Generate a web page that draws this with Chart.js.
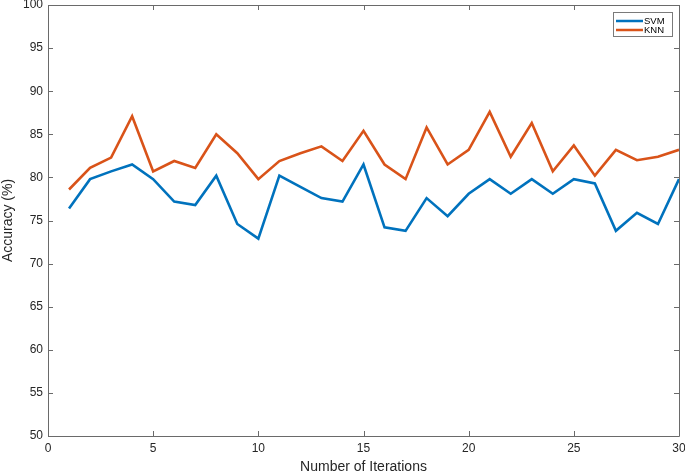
<!DOCTYPE html>
<html>
<head>
<meta charset="utf-8">
<script src="https://cdn.jsdelivr.net/npm/chart.js@4/dist/chart.umd.min.js"></script>
<style>
  html, body { margin: 0; padding: 0; background: #fff; }
  #wrap { width: 685px; height: 476px; position: relative; }
</style>
</head>
<body>
<div id="wrap"><canvas id="c" width="685" height="476"></canvas></div>
<script>
const iterations = [1,2,3,4,5,6,7,8,9,10,11,12,13,14,15,16,17,18,19,20,21,22,23,24,25,26,27,28,29,30];
const svmAccuracy = [76.4,79.8,80.7,81.5,79.8,77.2,76.8,80.2,74.6,72.9,80.2,78.9,77.6,77.2,81.5,74.2,73.8,77.6,75.5,78.1,79.8,78.1,79.8,78.1,79.8,79.3,73.8,75.9,74.6,79.8];
const knnAccuracy = [78.6,81.1,82.3,87.1,80.7,81.9,81.1,85.0,82.8,79.8,81.9,82.8,83.6,81.9,85.4,81.5,79.8,85.8,81.5,83.2,87.6,82.4,86.3,80.7,83.7,80.2,83.2,82.0,82.4,83.2];
const seriesLabels = ['SVM', 'KNN'];
const seriesColors = ['#0072BD', '#D95319'];
const xTicks = [0,5,10,15,20,25,30];
const yTicks = [50,55,60,65,70,75,80,85,90,95,100];

const FONT = 'Liberation Sans, Arial, Helvetica, sans-serif';
const AXIS_COLOR = '#6a6a6a';
const TEXT_COLOR = '#262626';

const boxPlugin = {
  id: 'matlabBox',
  afterDatasetsDraw(chart) {
    const {ctx, chartArea: a, scales} = chart;
    const x = scales.x, y = scales.y;
    ctx.save();
    ctx.strokeStyle = AXIS_COLOR;
    ctx.lineWidth = 1;
    ctx.beginPath();
    ctx.rect(Math.round(a.left) + 0.5, Math.round(a.top) + 0.5, Math.round(a.right - a.left), Math.round(a.bottom - a.top));
    ctx.stroke();
    const tl = 5;
    ctx.beginPath();
    xTicks.forEach(v => {
      const px = Math.round(x.getPixelForValue(v)) + 0.5;
      ctx.moveTo(px, a.bottom); ctx.lineTo(px, a.bottom - tl);
      ctx.moveTo(px, a.top); ctx.lineTo(px, a.top + tl);
    });
    yTicks.forEach(v => {
      const py = Math.round(y.getPixelForValue(v)) + 0.5;
      ctx.moveTo(a.left, py); ctx.lineTo(a.left + tl, py);
      ctx.moveTo(a.right, py); ctx.lineTo(a.right - tl, py);
    });
    ctx.stroke();

    // legend box (top-right, inside axes)
    const bx = 613.5, by = 12.5, bw = 59, bh = 24;
    ctx.fillStyle = '#ffffff';
    ctx.fillRect(bx, by, bw, bh);
    ctx.strokeStyle = '#7a7a7a';
    ctx.strokeRect(bx, by, bw, bh);
    chart.data.datasets.forEach((ds, i) => {
      const ly = 21 + i * 9;
      ctx.strokeStyle = ds.borderColor;
      ctx.lineWidth = 2.5;
      ctx.beginPath();
      ctx.moveTo(616, ly); ctx.lineTo(643, ly);
      ctx.stroke();
      ctx.fillStyle = '#000';
      ctx.font = '9.5px ' + FONT;
      ctx.textBaseline = 'middle';
      ctx.textAlign = 'left';
      ctx.fillText(ds.label, 644, ly + 0.5);
    });
    ctx.restore();
  }
};

new Chart(document.getElementById('c'), {
  type: 'line',
  data: {
    datasets: [
      { label: seriesLabels[0], data: iterations.map((v, i) => ({x: v, y: svmAccuracy[i]})), borderColor: seriesColors[0], backgroundColor: seriesColors[0], borderWidth: 2.6, pointRadius: 0, tension: 0, fill: false },
      { label: seriesLabels[1], data: iterations.map((v, i) => ({x: v, y: knnAccuracy[i]})), borderColor: seriesColors[1], backgroundColor: seriesColors[1], borderWidth: 2.6, pointRadius: 0, tension: 0, fill: false }
    ]
  },
  options: {
    responsive: false,
    animation: false,
    devicePixelRatio: 1,
    layout: { padding: { top: 5, right: 6, bottom: 0, left: 0 } },
    plugins: { legend: { display: false }, tooltip: { enabled: false } },
    scales: {
      x: {
        type: 'linear', min: 0, max: 30,
        afterBuildTicks: s => { s.ticks = xTicks.map(v => ({value: v})); },
        grid: { display: false, drawTicks: false },
        border: { display: false },
        ticks: { color: TEXT_COLOR, font: { family: FONT, size: 12 }, padding: 5, maxRotation: 0, autoSkip: false },
        title: { display: true, text: 'Number of Iterations', color: TEXT_COLOR, font: { family: FONT, size: 14 }, padding: { top: 0, bottom: 0 } },
        afterFit: s => { s.height = 40; s.paddingLeft = 0; s.paddingRight = 0; }
      },
      y: {
        type: 'linear', min: 50, max: 100,
        afterBuildTicks: s => { s.ticks = yTicks.map(v => ({value: v})); },
        grid: { display: false, drawTicks: false },
        border: { display: false },
        ticks: { color: TEXT_COLOR, font: { family: FONT, size: 12 }, padding: 5, autoSkip: false },
        title: { display: true, text: 'Accuracy (%)', color: TEXT_COLOR, font: { family: FONT, size: 14 }, padding: { top: 0, bottom: 0 } },
        afterFit: s => { s.width = 48; s.paddingTop = 0; s.paddingBottom = 0; }
      }
    }
  },
  plugins: [boxPlugin]
});
</script>
</body>
</html>
